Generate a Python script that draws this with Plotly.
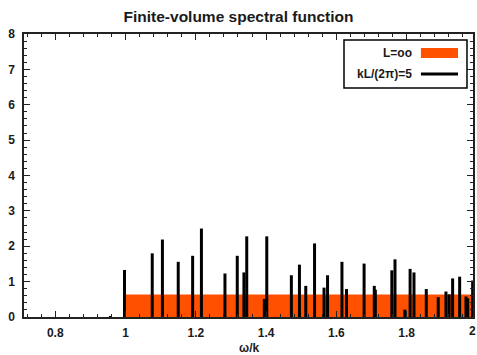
import plotly.graph_objects as go

# ---- data ----
continuum_x = [1.0, 2.0]          # L = oo band (omega/k)
continuum_level = [0.637, 0.637]  # height of the band

peak_omega = [0.957, 0.997, 1.076, 1.105, 1.150, 1.191, 1.216, 1.283, 1.318, 1.337,
              1.345, 1.395, 1.402, 1.472, 1.495, 1.513, 1.538, 1.565, 1.575, 1.616,
              1.629, 1.679, 1.708, 1.711, 1.758, 1.767, 1.795, 1.810, 1.821, 1.856,
              1.890, 1.912, 1.921, 1.931, 1.951, 1.969, 1.974, 1.988]
peak_height = [0.03, 1.33, 1.80, 2.19, 1.56, 1.73, 2.50, 1.23, 1.73, 1.26,
               2.28, 0.51, 2.28, 1.18, 1.48, 0.88, 2.08, 0.83, 1.18, 1.56,
               0.79, 1.51, 0.88, 0.77, 1.32, 1.63, 0.21, 1.36, 1.26, 0.79,
               0.56, 0.72, 0.64, 1.09, 1.14, 0.58, 0.53, 1.03]

x_ticks = [0.8, 1.0, 1.2, 1.4, 1.6, 1.8]
x_ticklabels = ["0.8", "1", "1.2", "1.4", "1.6", "1.8"]
y_ticks = [0, 1, 2, 3, 4, 5, 6, 7, 8]

ORANGE = "#FF5000"
FONT = "Liberation Sans, Arial, sans-serif"
TXT = "#1a1a1a"
AX = "#222222"

XMIN, XMAX = 0.711, 1.989

# spikes as vertical segments
sx, sy = [], []
for w, h in zip(peak_omega, peak_height):
    sx += [w, w, None]
    sy += [0, h, None]

fig = go.Figure()
fig.add_trace(go.Scatter(x=continuum_x, y=continuum_level, mode="lines",
                         line=dict(width=0, color=ORANGE), fill="tozeroy",
                         fillcolor=ORANGE, showlegend=False, hoverinfo="skip"))
fig.add_trace(go.Scatter(x=sx, y=sy, mode="lines",
                         line=dict(color="black", width=3), showlegend=False))

axis_common = dict(showline=True, linecolor=AX, linewidth=1.5, mirror="allticks",
                   ticks="inside", ticklen=6, tickwidth=1, tickcolor=AX,
                   showgrid=False, zeroline=False, automargin=False,
                   tickfont=dict(family=FONT, size=12, color=TXT, weight="bold"))

fig.update_xaxes(range=[XMIN, XMAX], tickvals=x_ticks, ticktext=x_ticklabels,
                 minor=dict(ticks="inside", dtick=0.04, tick0=0.8, ticklen=3,
                            tickcolor=AX),
                 ticklabelstandoff=4,
                 **axis_common)
fig.update_yaxes(range=[0, 8], tickvals=y_ticks,
                 minor=dict(ticks="inside", dtick=0.2, tick0=0, ticklen=3,
                            tickcolor=AX),
                 ticklabelstandoff=5,
                 **axis_common)

# custom legend (paper coords of plot area)
fig.add_shape(type="rect", xref="paper", yref="paper", x0=0.7127, x1=0.9866,
              y0=0.809, y1=0.979, line=dict(color="black", width=1.5),
              fillcolor="white", layer="above")
fig.add_shape(type="rect", xref="paper", yref="paper", x0=0.884, x1=0.9666,
              y0=0.915, y1=0.9505, line=dict(width=0), fillcolor=ORANGE, layer="above")
fig.add_shape(type="line", xref="paper", yref="paper", x0=0.884, x1=0.9666,
              y0=0.8587, y1=0.8587, line=dict(color="black", width=3), layer="above")
fig.add_annotation(xref="paper", yref="paper", x=0.8686, y=0.9329, xanchor="right",
                   yanchor="middle", text="L=oo", showarrow=False,
                   font=dict(family=FONT, size=12, color=TXT, weight="bold"))
fig.add_annotation(xref="paper", yref="paper", x=0.8686, y=0.8587, xanchor="right",
                   yanchor="middle", text="kL/(2π)=5", showarrow=False,
                   font=dict(family=FONT, size=12, color=TXT, weight="bold"))
# "2" tick label at the right edge
fig.add_annotation(xref="paper", yref="paper", x=1.0, xshift=-1, y=0,
                   yshift=-5, xanchor="center", yanchor="top", text="2", showarrow=False,
                   font=dict(family=FONT, size=12, color=TXT, weight="bold"))
# x-axis title
fig.add_annotation(xref="paper", yref="paper", x=0.5, y=0, yshift=-22,
                   xanchor="center", yanchor="top", text="ω/k", showarrow=False,
                   font=dict(family=FONT, size=12, color=TXT, weight="bold"))

fig.update_layout(
    width=477, height=355,
    margin=dict(l=24, r=4, t=34, b=38, autoexpand=False),
    paper_bgcolor="white", plot_bgcolor="white",
    title=dict(text="Finite-volume spectral function", x=0.5, xref="container",
               xanchor="center", y=1 - 17 / 355, yref="container", yanchor="middle",
               font=dict(family=FONT, size=15.5, color=TXT, weight="bold")),
    showlegend=False,
)

fig.write_html("out.html", config={"displayModeBar": False},
               post_script="document.body.style.margin='0';document.body.style.overflow='hidden';")
